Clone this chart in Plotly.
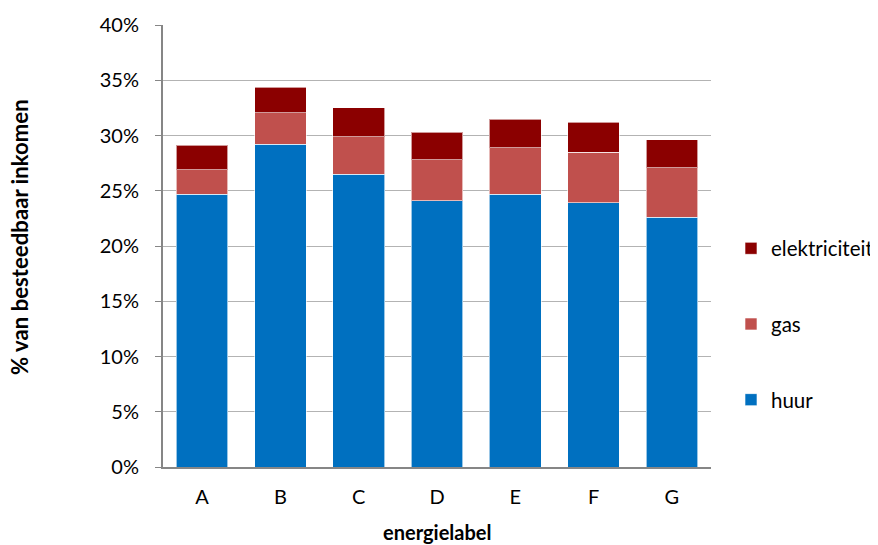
import plotly.graph_objects as go

categories = ["A", "B", "C", "D", "E", "F", "G"]
huur = [24.7, 29.2, 26.5, 24.1, 24.7, 23.9, 22.6]
gas = [2.2, 2.85, 3.4, 3.7, 4.2, 4.6, 4.5]
elektriciteit = [2.2, 2.3, 2.6, 2.5, 2.55, 2.7, 2.5]
y_ticks = [0, 5, 10, 15, 20, 25, 30, 35, 40]
y_tick_labels = [f"{v}%" for v in y_ticks]

FONT = "Lato, 'Open Sans', sans-serif"

fig = go.Figure()
series = [("huur", huur, "#0070C0", 3), ("gas", gas, "#C0504D", 2), ("elektriciteit", elektriciteit, "#8B0000", 1)]
for name, vals, col, rank in series:
    fig.add_trace(go.Bar(
        x=categories, y=vals, name=name, legendgroup=name, legendrank=rank,
        marker=dict(color=col, line=dict(color="rgba(255,255,255,0.6)", width=1)),
    ))

OFF = 8  # page body margin
W, H = 920, 537
L, T, B = 163 - OFF, 25 - OFF, 78
R = W - (711 - OFF)
PW = W - L - R
PH = H - T - B


def px(sx):
    return (sx - OFF - L) / PW


def py(sy):
    return (H - B - (sy - OFF)) / PH


fig.update_layout(
    barmode="stack",
    bargap=0.34,
    width=W, height=H,
    margin=dict(l=L, r=R, t=T, b=B, autoexpand=False),
    plot_bgcolor="white", paper_bgcolor="white",
    font=dict(family=FONT, size=20, color="#000000"),
    showlegend=True,
    legend=dict(
        x=px(731), y=py(324), xanchor="left", yanchor="middle",
        traceorder="grouped", tracegroupgap=46,
        font=dict(family=FONT, size=20.5, color="#000000"),
        itemwidth=30,
    ),
    xaxis=dict(
        showline=True, linecolor="#868686", linewidth=2,
        ticks="", tickfont=dict(size=20), automargin=False,
        ticklabelstandoff=11,
    ),
    yaxis=dict(
        range=[0, 40], tickvals=y_ticks, ticktext=y_tick_labels,
        showline=True, linecolor="#868686", linewidth=2,
        ticks="outside", ticklen=6, tickcolor="#868686", tickwidth=1,
        showgrid=True, gridcolor="#B3B3B3", gridwidth=1,
        zeroline=False, tickfont=dict(size=20), automargin=False,
        ticklabelstandoff=12,
    ),
    annotations=[
        dict(text="<b>% van besteedbaar inkomen</b>", textangle=-90,
             xref="paper", yref="paper", x=px(20), y=py(237),
             xanchor="center", yanchor="middle", showarrow=False,
             font=dict(family=FONT, size=22.2, color="#000000")),
        dict(text="<b>energielabel</b>",
             xref="paper", yref="paper", x=px(437), y=py(532),
             xanchor="center", yanchor="middle", showarrow=False,
             font=dict(family=FONT, size=20, color="#000000")),
    ],
)

fig.write_html("out.html")
